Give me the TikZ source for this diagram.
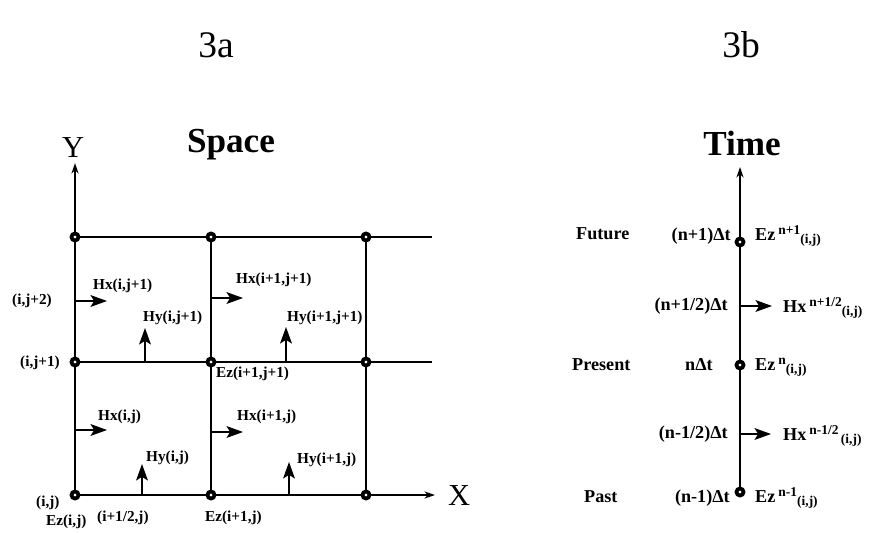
\documentclass[tikz,border=0pt]{standalone}
\usepackage{fontspec}
\setmainfont{Liberation Serif}
\usetikzlibrary{positioning, arrows.meta}

\newcommand{\fld}[2]{#1\,\raisebox{5pt}{\fontsize{11.5}{13}\selectfont #2}\raisebox{-3pt}{\fontsize{11.5}{13}\selectfont(i,j)}}

\begin{document}
\begin{tikzpicture}[
            x=0.03cm, y=-0.03cm,
            ezpt/.style={circle, draw, fill=white, line width=3.2pt, minimum size=6pt, inner sep=0pt},
            gridline/.style={line width=1.5pt},
            axarrow/.style={line width=1.5pt, -{Stealth[length=9pt, width=6pt]}},
            harrow/.style={line width=1.5pt, -{Stealth[length=14pt, width=10pt, inset=3pt]}},
            lab/.style={font=\fontsize{13}{15}\selectfont\bfseries, inner sep=0pt, anchor=base west},
            tlab/.style={font=\fontsize{15.5}{18}\selectfont\bfseries, inner sep=0pt},
            headline/.style={font=\fontsize{30}{36}\selectfont\bfseries, inner sep=0pt, anchor=base},
            fignum/.style={font=\fontsize{32}{38}\selectfont, inner sep=0pt},
            axlab/.style={font=\fontsize{26}{30}\selectfont, inner sep=0pt, anchor=base}
        ]
            \useasboundingbox (0,0) rectangle (870,532);

            \node[fignum] (fa) at (216,45) {3a};
            \node[fignum] (fb) at (741,45) {3b};
            \node[headline] (space) at (231,152) {Space};
            \node[headline] (time) at (742,155) {Time};

            \foreach \i/\x in {0/75,1/211,2/366}
                \foreach \j/\y in {0/495,1/362,2/237}
                    \node[ezpt] (e\i\j) at (\x,\y) {};

            \coordinate (ytip) at (75,163);
            \coordinate (xtip) at (435,495);
            \coordinate (r1) at (432,362);
            \coordinate (r2) at (432,237);

            \draw[axarrow] (e00) -- (e01) -- (e02) -- (ytip);
            \draw[axarrow] (e00) -- (e10) -- (e20) -- (xtip);
            \draw[gridline] (e01) -- (e11) -- (e21) -- (r1);
            \draw[gridline] (e02) -- (e12) -- (e22) -- (r2);
            \draw[gridline] (e10) -- (e11) -- (e12);
            \draw[gridline] (e20) -- (e21) -- (e22);

            \node[axlab] (ylab) at (73,157) {Y};
            \node[axlab] (xlab) at (459,505) {X};

            \foreach \n/\x/\y/\dx/\dy in {hx01/75/301/32/0, hx11/211/298/32/0, hy01/145/362/0/-34, hy11/286/362/0/-35,
                                           hx00/75/430/32/0, hx10/211/432/32/0, hy00/142/495/0/-31, hy10/289/495/0/-33} {
                \coordinate (\n) at (\x,\y);
                \coordinate (\n t) at ({\x+\dx},{\y+\dy});
                \draw[harrow] (\n) -- (\n t);
            }

            \node[lab] (lhx01) at (93,289) {Hx(i,j+1)};
            \node[lab] (lhy01) at (143,321) {Hy(i,j+1)};
            \node[lab] (lhx11) at (236,283) {Hx(i+1,j+1)};
            \node[lab] (lhy11) at (287,321) {Hy(i+1,j+1)};
            \node[lab] (lhx00) at (98,420) {Hx(i,j)};
            \node[lab] (lhx10) at (237,420) {Hx(i+1,j)};
            \node[lab] (lhy00) at (146,461) {Hy(i,j)};
            \node[lab] (lhy10) at (297,463) {Hy(i+1,j)};

            \node[lab] (lj2) at (12,304) {(i,j+2)};
            \node[lab] (lj1) at (20,366) {(i,j+1)};
            \node[lab] (lj0) at (36,506) {(i,j)};
            \node[lab] (lez00) at (46,525) {Ez(i,j)};
            \node[lab] (lhalf) at (97,521) {(i+1/2,j)};
            \node[lab] (lez10) at (205,521) {Ez(i+1,j)};
            \node[lab] (lez11) at (216,377) {Ez(i+1,j+1)};

            \foreach \k/\y in {0/492,1/365,2/242}
                \node[ezpt] (t\k) at (740,\y) {};
            \coordinate (ttip) at (740,167);
            \draw[axarrow] (t0) -- (t1) -- (t2) -- (ttip);

            \coordinate (h1) at (740,306);
            \coordinate (h1t) at (772,306);
            \coordinate (h0) at (740,434);
            \coordinate (h0t) at (771,434);
            \draw[harrow] (h1) -- (h1t);
            \draw[harrow] (h0) -- (h0t);

            \node[tlab, anchor=base west] (future) at (576,239) {Future};
            \node[tlab, anchor=base west] (present) at (572,370) {Present};
            \node[tlab, anchor=base west] (past) at (584,502) {Past};

            \node[tlab, anchor=base east] (tn2) at (731,240) {(n+1)Δt};
            \node[tlab, anchor=base east] (tnh1) at (728,310) {(n+1/2)Δt};
            \node[tlab, anchor=base east] (tn1) at (713,370) {nΔt};
            \node[tlab, anchor=base east] (tnh0) at (728,438) {(n-1/2)Δt};
            \node[tlab, anchor=base east] (tn0) at (730,502) {(n-1)Δt};

            \node[tlab, anchor=base west] (ez2) at (755,240) {\fld{Ez}{n+1}};
            \node[tlab, anchor=base west] (hxh1) at (783,312) {\fld{Hx}{n+1/2}};
            \node[tlab, anchor=base west] (ez1) at (755,370) {\fld{Ez}{n}};
            \node[tlab, anchor=base west] (hxh0) at (783,440) {\fld{Hx}{n-1/2\,}};
            \node[tlab, anchor=base west] (ez0) at (755,502) {\fld{Ez}{n-1}};

        \end{tikzpicture}
\end{document}
